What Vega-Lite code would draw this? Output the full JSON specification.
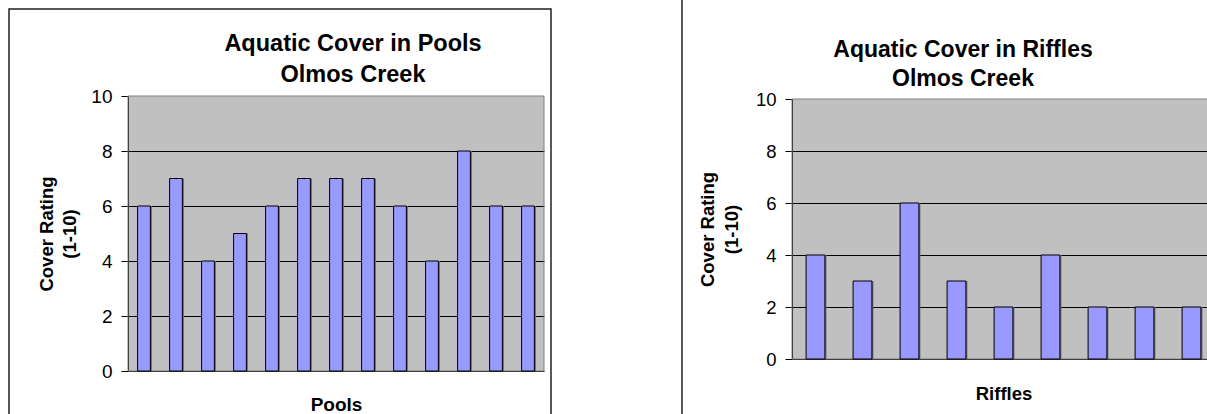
{
  "$schema": "https://vega.github.io/schema/vega-lite/v6.json",
  "background": "white",
  "padding": {"left": 8, "top": -2, "right": 0, "bottom": 0},
  "datasets": {
    "pools": [
      {"pool": "1", "cover": 6}, {"pool": "2", "cover": 7}, {"pool": "3", "cover": 4},
      {"pool": "4", "cover": 5}, {"pool": "5", "cover": 6}, {"pool": "6", "cover": 7},
      {"pool": "7", "cover": 7}, {"pool": "8", "cover": 7}, {"pool": "9", "cover": 6},
      {"pool": "10", "cover": 4}, {"pool": "11", "cover": 8}, {"pool": "12", "cover": 6},
      {"pool": "13", "cover": 6}
    ],
    "riffles": [
      {"riffle": "1", "cover": 4}, {"riffle": "2", "cover": 3}, {"riffle": "3", "cover": 6},
      {"riffle": "4", "cover": 3}, {"riffle": "5", "cover": 2}, {"riffle": "6", "cover": 4},
      {"riffle": "7", "cover": 2}, {"riffle": "8", "cover": 2}, {"riffle": "9", "cover": 2}
    ]
  },
  "spacing": 131,
  "bounds": "flush",
  "center": true,
  "hconcat": [
    {
      "width": 542,
      "height": 420,
      "data": {"name": "pools"},
      "title": {
        "text": ["Aquatic Cover in Pools", "Olmos Creek"],
        "fontSize": 23.5,
        "lineHeight": 31,
        "baseline": "alphabetic",
        "frame": "group",
        "anchor": "middle",
        "offset": -96,
        "dx": 73
      },
      "encoding": {
        "x": {
          "field": "pool",
          "type": "ordinal",
          "scale": {
            "domain": ["1", "2", "3", "4", "5", "6", "7", "8", "9", "10", "11", "12", "13"],
            "range": [119, 535],
            "paddingInner": 0,
            "paddingOuter": 0
          },
          "axis": {
            "title": "Pools",
            "labels": false,
            "ticks": false,
            "offset": -58,
            "titleFontSize": 19,
            "titleY": 39,
            "titleBaseline": "alphabetic"
          }
        },
        "y": {
          "field": "cover",
          "type": "quantitative",
          "scale": {"domain": [0, 10], "range": [362, 87], "nice": false, "zero": true},
          "axis": {
            "title": ["Cover Rating", "(1-10)"],
            "values": [0, 2, 4, 6, 8, 10],
            "offset": -119,
            "tickSize": 7,
            "labelFontSize": 19,
            "labelPadding": 9,
            "grid": true,
            "gridOpacity": {"condition": {"test": "datum.value === 0 || datum.value === 10", "value": 0}, "value": 1},
            "titleFontSize": 18.5,
            "titleLineHeight": 23.5,
            "titleAngle": -90,
            "titleAlign": "center",
            "titleBaseline": "alphabetic",
            "titleX": -76,
            "titleY": 224.5
          }
        }
      },
      "layer": [
        {
          "transform": [{"filter": "datum.pool === '7'"}],
          "mark": {"type": "bar", "fill": "black", "fillOpacity": 0.247, "stroke": "#808080", "strokeOpacity": 1, "strokeWidth": 1, "width": {"band": 13}},
          "encoding": {"y": {"datum": 10, "type": "quantitative"}, "y2": {"datum": 0}}
        },
        {
          "mark": {"type": "bar", "fill": "#6b6b6b", "xOffset": 1.5, "width": {"band": 0.4}}
        },
        {
          "mark": {"type": "bar", "fill": "#9999FF", "stroke": "black", "strokeWidth": 1, "width": {"band": 0.4}}
        }
      ]
    },
    {
      "width": 562,
      "height": 440,
      "data": {"name": "riffles"},
      "title": {
        "text": ["Aquatic Cover in Riffles", "Olmos Creek"],
        "fontSize": 23,
        "lineHeight": 29,
        "baseline": "alphabetic",
        "frame": "group",
        "anchor": "middle",
        "offset": -110,
        "dx": 0
      },
      "encoding": {
        "x": {
          "field": "riffle",
          "type": "ordinal",
          "scale": {
            "domain": ["1", "2", "3", "4", "5", "6", "7", "8", "9"],
            "range": [110, 533],
            "paddingInner": 0,
            "paddingOuter": 0
          },
          "axis": {
            "title": "Riffles",
            "labels": false,
            "ticks": false,
            "offset": -80,
            "titleFontSize": 18.5,
            "titleY": 40,
            "titleBaseline": "alphabetic"
          }
        },
        "y": {
          "field": "cover",
          "type": "quantitative",
          "scale": {"domain": [0, 10], "range": [360, 100], "nice": false, "zero": true},
          "axis": {
            "title": ["Cover Rating", "(1-10)"],
            "values": [0, 2, 4, 6, 8, 10],
            "offset": -110,
            "tickSize": 7,
            "labelFontSize": 18.5,
            "labelPadding": 9,
            "grid": true,
            "gridOpacity": {"condition": {"test": "datum.value === 0 || datum.value === 10", "value": 0}, "value": 1},
            "titleFontSize": 18.5,
            "titleLineHeight": 24,
            "titleAngle": -90,
            "titleAlign": "center",
            "titleBaseline": "alphabetic",
            "titleX": -79,
            "titleY": 230
          }
        }
      },
      "layer": [
        {
          "transform": [{"filter": "datum.riffle === '5'"}],
          "mark": {"type": "bar", "fill": "black", "fillOpacity": 0.247, "stroke": "#808080", "strokeOpacity": 1, "strokeWidth": 1, "width": {"band": 9}},
          "encoding": {"y": {"datum": 10, "type": "quantitative"}, "y2": {"datum": 0}}
        },
        {
          "mark": {"type": "bar", "fill": "#6b6b6b", "xOffset": 1.5, "width": {"band": 0.4}}
        },
        {
          "mark": {"type": "bar", "fill": "#9999FF", "stroke": "black", "strokeWidth": 1, "width": {"band": 0.4}}
        }
      ]
    }
  ],
  "config": {
    "font": "Liberation Sans",
    "view": {"stroke": "#222222", "strokeWidth": 1.5},
    "title": {"font": "Liberation Sans", "fontWeight": "bold", "color": "black"},
    "axis": {
      "labelFont": "Liberation Sans",
      "titleFont": "Liberation Sans",
      "labelColor": "black",
      "titleColor": "black",
      "titleFontWeight": "bold",
      "domainColor": "black",
      "domainWidth": 1,
      "tickColor": "black",
      "tickWidth": 1,
      "gridColor": "black",
      "gridWidth": 1
    }
  }
}
